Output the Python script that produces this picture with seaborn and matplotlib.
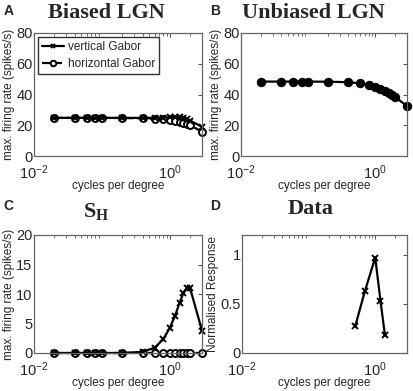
import numpy as np
import matplotlib
matplotlib.use("Agg")
import matplotlib.pyplot as plt
import seaborn as sns
from matplotlib.ticker import LogLocator, NullFormatter, FixedLocator

sns.set_style("white")
plt.rcParams['font.family'] = ['Liberation Sans', 'DejaVu Sans']
plt.rcParams['mathtext.fontset'] = 'custom'
plt.rcParams['mathtext.rm'] = 'Liberation Sans'
plt.rcParams['mathtext.bf'] = 'Liberation Serif:bold'

# spatial frequencies (cycles per degree)
sf = [0.02, 0.04, 0.06, 0.08, 0.1, 0.2, 0.4, 0.6, 0.8, 1.0, 1.2, 1.4, 1.6, 1.8, 2.0, 3.0]
biased_vert = [24.8, 24.8, 24.8, 24.8, 24.8, 24.8, 24.8, 24.9, 25.0, 25.2, 25.3, 25.2, 24.8, 24.0, 23.0, 19.0]
biased_horz = [24.8, 24.8, 24.8, 24.8, 24.8, 24.7, 24.5, 24.3, 24.0, 23.5, 23.0, 22.4, 21.6, 20.8, 20.0, 15.8]
unbiased = [48.4, 48.4, 48.4, 48.4, 48.4, 48.3, 48.0, 47.2, 46.1, 44.9, 43.5, 42.2, 40.9, 39.6, 38.3, 32.5]
sh_vert = [0, 0, 0, 0, 0, 0, 0.2, 0.9, 2.3, 4.2, 6.3, 8.5, 10.2, 11.0, 11.0, 3.8]
sh_horz = [0, 0, 0, 0, 0, 0, 0, 0, 0, 0, 0, 0, 0, 0, 0, 0]
data_sf = [0.5, 0.7, 1.0, 1.2, 1.4]
data_resp = [0.27, 0.63, 0.97, 0.53, 0.18]

fig = plt.figure(figsize=(4.14, 3.91), dpi=100)
W, H = 414, 391
def box(l, t, r, b):
    return fig.add_axes([l / W, 1 - b / H, (r - l) / W, (b - t) / H])

axA = box(34, 33, 202, 156)
axB = box(241, 33, 407, 156)
axC = box(34, 235, 202, 353)
axD = box(242, 235, 407, 353)

lw = 1.6
horz_kw = dict(color='black', linestyle='--', lw=lw, marker='o', markersize=5,
               markerfacecolor='white', markeredgecolor='black', markeredgewidth=1.4,
               clip_on=False)
vert_kw = dict(color='black', lw=lw, marker='x', markersize=4,
               markeredgecolor='black', markeredgewidth=1.4, clip_on=False)

sns.lineplot(x=sf, y=biased_horz, ax=axA, label='horizontal Gabor', **horz_kw)
sns.lineplot(x=sf, y=biased_vert, ax=axA, label='vertical Gabor', **vert_kw)
sns.lineplot(x=sf, y=unbiased, ax=axB, color='black', lw=lw, clip_on=False,
             marker='o', markersize=6, markerfacecolor='black', markeredgecolor='black')
sns.lineplot(x=sf, y=sh_horz, ax=axC, **horz_kw)
sns.lineplot(x=sf, y=sh_vert, ax=axC, **vert_kw)
sns.lineplot(x=data_sf, y=data_resp, ax=axD, **vert_kw)

# legend: vertical first
h, l = axA.get_legend_handles_labels()
leg = axA.legend(h[::-1], l[::-1], loc='upper left', fontsize=8.5, frameon=True,
                 fancybox=False, edgecolor='black', handlelength=1.9, markerscale=0.8,
                 borderaxespad=0.3, borderpad=0.35, labelspacing=0.45, handletextpad=0.3)
leg.get_frame().set_linewidth(1.0)

for ax in (axA, axB, axC, axD):
    ax.set_xscale('log')
    ax.set_xlim(0.01, 3)
    ax.xaxis.set_major_locator(FixedLocator([0.01, 1]))
    ax.xaxis.set_minor_locator(LogLocator(base=10, subs=np.arange(2, 10)))
    ax.xaxis.set_minor_formatter(NullFormatter())
    ax.tick_params(direction='in', top=True, right=True, labelsize=10.5, length=3,
                   color='#555555')
    ax.tick_params(axis='x', pad=5.5)
    ax.tick_params(axis='y', pad=1)
    ax.tick_params(which='minor', direction='in', top=True, length=2, color='#555555')
    for s in ax.spines.values():
        s.set_color('#666666')
        s.set_linewidth(0.9)
    ax.set_xlabel('cycles per degree', fontsize=8.5, labelpad=-1.5)

for ax in (axA, axB):
    ax.set_ylim(0, 80)
    ax.set_yticks([0, 20, 40, 60, 80])
    ax.set_ylabel('max. firing rate (spikes/s)', fontsize=8.5, labelpad=1)
axC.set_ylim(0, 20)
axC.set_yticks([0, 5, 10, 15, 20])
axC.set_ylabel('max. firing rate (spikes/s)', fontsize=8.5, labelpad=1)
axD.set_ylim(0, 1.2)
axD.set_yticks([0, 0.5, 1])
axD.set_yticklabels(['0', '0.5', '1'])
axD.set_ylabel('Normalised Response', fontsize=8.5, labelpad=1)

tkw = dict(fontsize=16, fontweight='bold', family='Liberation Serif', ha='center', va='center')
fig.text(0.258, 0.968, 'Biased LGN', **tkw)
fig.text(0.756, 0.968, 'Unbiased LGN', **tkw)
fig.text(0.232, 0.458, r'$\mathbf{S_H}$', fontsize=16, ha='center', va='center')
fig.text(0.749, 0.465, 'Data', **tkw)

lkw = dict(fontsize=10, fontweight='bold', ha='left', va='top')
fig.text(0.008, 0.99, 'A', **lkw)
fig.text(0.508, 0.99, 'B', **lkw)
fig.text(0.008, 0.49, 'C', **lkw)
fig.text(0.508, 0.49, 'D', **lkw)

fig.savefig('out.png', dpi=100)
